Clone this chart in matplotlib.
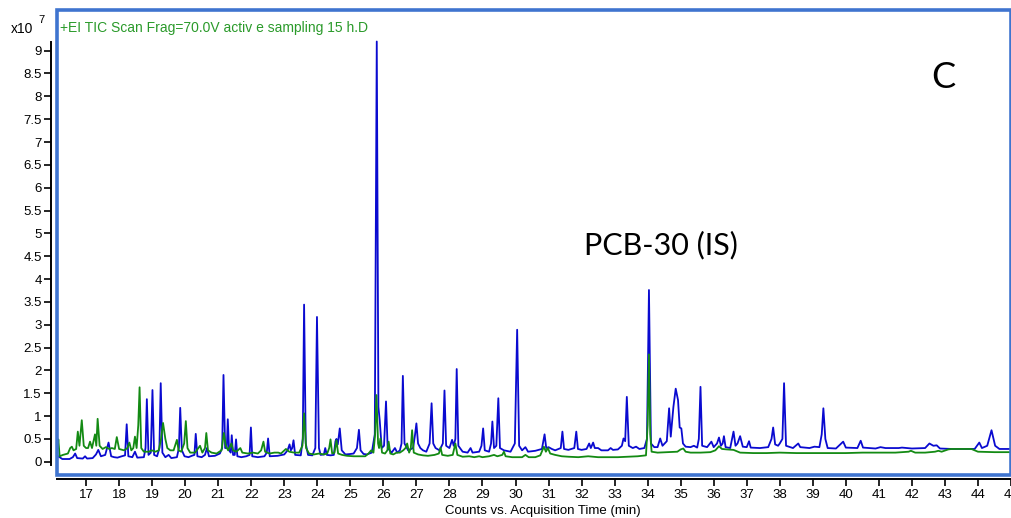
#!/usr/bin/env python3
"""TIC chromatogram, panel C (blue and green overlaid traces)."""

import matplotlib
matplotlib.use("Agg")
import matplotlib.pyplot as plt
from matplotlib.patches import Rectangle
from matplotlib.ticker import FormatStrFormatter

# Blue trace: (time min, counts x1e7) vertices
blue_pts = [
    (16.15, 0.12), (16.20, 0.10), (16.28, 0.06), (16.50, 0.06), (16.60, 0.10),
    (16.67, 0.18), (16.73, 0.08), (16.90, 0.07), (16.97, 0.12), (17.03, 0.07),
    (17.20, 0.08), (17.30, 0.16), (17.37, 0.26), (17.45, 0.12), (17.58, 0.15),
    (17.68, 0.42), (17.76, 0.12), (17.85, 0.10), (17.95, 0.09), (18.08, 0.12),
    (18.18, 0.14), (18.23, 0.82), (18.28, 0.12), (18.40, 0.10), (18.48, 0.22),
    (18.55, 0.09), (18.75, 0.10), (18.80, 0.30), (18.84, 1.37), (18.89, 0.15),
    (18.96, 0.20), (19.01, 1.57), (19.06, 0.15), (19.15, 0.12), (19.22, 0.30),
    (19.26, 1.72), (19.31, 0.20), (19.40, 0.10), (19.50, 0.15), (19.58, 0.08),
    (19.75, 0.10), (19.81, 0.30), (19.85, 1.18), (19.90, 0.25), (19.98, 0.12),
    (20.10, 0.10), (20.20, 0.13), (20.28, 0.15), (20.32, 0.61), (20.37, 0.12),
    (20.50, 0.10), (20.60, 0.15), (20.66, 0.30), (20.72, 0.12), (20.90, 0.13),
    (21.05, 0.18), (21.12, 0.30), (21.16, 1.90), (21.21, 0.30), (21.26, 0.30),
    (21.29, 0.93), (21.33, 0.25), (21.38, 0.20), (21.41, 0.58), (21.45, 0.15),
    (21.50, 0.15), (21.54, 0.49), (21.58, 0.12), (21.70, 0.10), (21.85, 0.12),
    (21.95, 0.15), (21.99, 0.75), (22.03, 0.12), (22.20, 0.10), (22.40, 0.12),
    (22.47, 0.20), (22.51, 0.51), (22.56, 0.12), (22.80, 0.13), (23.00, 0.16),
    (23.10, 0.25), (23.16, 0.38), (23.20, 0.25), (23.24, 0.30), (23.28, 0.47),
    (23.33, 0.15), (23.50, 0.14), (23.56, 0.50), (23.60, 3.44), (23.65, 0.40),
    (23.72, 0.15), (23.85, 0.14), (23.94, 0.30), (23.99, 3.17), (24.05, 0.30),
    (24.10, 0.15), (24.20, 0.16), (24.24, 0.30), (24.29, 0.15), (24.40, 0.14),
    (24.50, 0.15), (24.55, 0.45), (24.58, 0.50), (24.62, 0.38), (24.68, 0.73),
    (24.74, 0.25), (24.85, 0.16), (25.00, 0.17), (25.10, 0.18), (25.20, 0.30),
    (25.26, 0.70), (25.31, 0.25), (25.40, 0.17), (25.50, 0.16), (25.65, 0.20),
    (25.74, 0.60), (25.80, 9.20), (25.85, 1.20), (25.89, 0.90), (25.95, 0.30),
    (26.02, 0.35), (26.08, 1.32), (26.13, 0.30), (26.25, 0.20), (26.35, 0.30),
    (26.42, 0.20), (26.50, 0.25), (26.55, 0.40), (26.59, 1.88), (26.64, 0.40),
    (26.75, 0.25), (26.90, 0.30), (26.96, 0.60), (27.00, 0.84), (27.05, 0.40),
    (27.12, 0.30), (27.20, 0.25), (27.30, 0.22), (27.40, 0.40), (27.46, 1.28),
    (27.51, 0.40), (27.58, 0.30), (27.70, 0.25), (27.80, 0.40), (27.85, 1.56),
    (27.90, 0.35), (28.00, 0.30), (28.08, 0.48), (28.13, 0.35), (28.18, 0.50),
    (28.22, 2.03), (28.27, 0.35), (28.40, 0.22), (28.55, 0.20), (28.64, 0.30),
    (28.70, 0.20), (28.90, 0.22), (28.97, 0.35), (29.02, 0.73), (29.07, 0.25),
    (29.20, 0.22), (29.26, 0.40), (29.30, 0.88), (29.35, 0.30), (29.42, 0.35),
    (29.48, 1.39), (29.53, 0.30), (29.65, 0.25), (29.85, 0.22), (29.98, 0.40),
    (30.05, 2.89), (30.11, 0.35), (30.20, 0.25), (30.30, 0.32), (30.38, 0.22),
    (30.60, 0.24), (30.80, 0.28), (30.88, 0.60), (30.93, 0.30), (31.00, 0.32),
    (31.10, 0.28), (31.20, 0.25), (31.37, 0.30), (31.42, 0.66), (31.47, 0.28),
    (31.60, 0.26), (31.78, 0.30), (31.84, 0.66), (31.89, 0.28), (32.00, 0.26),
    (32.15, 0.28), (32.23, 0.40), (32.28, 0.30), (32.35, 0.42), (32.40, 0.30),
    (32.50, 0.30), (32.60, 0.25), (32.80, 0.25), (32.88, 0.30), (32.95, 0.26),
    (33.10, 0.27), (33.22, 0.35), (33.27, 0.51), (33.32, 0.45), (33.37, 1.42),
    (33.43, 0.35), (33.55, 0.30), (33.65, 0.33), (33.75, 0.28), (33.90, 0.30),
    (33.98, 0.50), (34.04, 3.76), (34.10, 0.40), (34.20, 0.32), (34.30, 0.32),
    (34.38, 0.51), (34.45, 0.35), (34.58, 0.45), (34.65, 1.17), (34.70, 0.55),
    (34.78, 1.20), (34.85, 1.60), (34.92, 1.35), (34.97, 0.75), (35.02, 0.73),
    (35.07, 0.40), (35.15, 0.33), (35.30, 0.32), (35.40, 0.35), (35.50, 0.31),
    (35.55, 0.50), (35.60, 1.64), (35.65, 0.35), (35.80, 0.32), (35.93, 0.44),
    (36.00, 0.32), (36.10, 0.40), (36.16, 0.53), (36.22, 0.35), (36.27, 0.40),
    (36.31, 0.56), (36.36, 0.32), (36.50, 0.30), (36.60, 0.66), (36.66, 0.35),
    (36.72, 0.40), (36.80, 0.56), (36.88, 0.33), (37.00, 0.32), (37.07, 0.45),
    (37.12, 0.31), (37.40, 0.30), (37.65, 0.32), (37.75, 0.50), (37.80, 0.75),
    (37.86, 0.38), (37.95, 0.35), (38.00, 0.40), (38.08, 0.50), (38.13, 1.72),
    (38.19, 0.35), (38.40, 0.30), (38.56, 0.40), (38.62, 0.32), (38.90, 0.30),
    (39.05, 0.33), (39.20, 0.32), (39.27, 0.60), (39.32, 1.17), (39.38, 0.50),
    (39.45, 0.30), (39.70, 0.29), (39.92, 0.44), (40.00, 0.31), (40.35, 0.30),
    (40.45, 0.46), (40.52, 0.31), (40.90, 0.29), (41.05, 0.32), (41.20, 0.30),
    (41.60, 0.30), (41.70, 0.31), (42.00, 0.29), (42.40, 0.30), (42.53, 0.40),
    (42.65, 0.35), (42.75, 0.36), (42.85, 0.29), (43.20, 0.28), (43.90, 0.28),
    (44.04, 0.42), (44.12, 0.30), (44.28, 0.35), (44.41, 0.69), (44.52, 0.35),
    (44.65, 0.28), (45.10, 0.28),
]

# Green trace: (time min, counts x1e7) vertices
green_pts = [
    (16.14, 0.30), (16.16, 0.49), (16.20, 0.12), (16.30, 0.15), (16.45, 0.18),
    (16.52, 0.30), (16.57, 0.33), (16.62, 0.25), (16.70, 0.28), (16.75, 0.66),
    (16.80, 0.35), (16.87, 0.91), (16.93, 0.35), (17.00, 0.30), (17.06, 0.30),
    (17.12, 0.44), (17.18, 0.30), (17.27, 0.60), (17.31, 0.35), (17.35, 0.94),
    (17.41, 0.35), (17.50, 0.28), (17.60, 0.32), (17.70, 0.28), (17.78, 0.30),
    (17.87, 0.28), (17.93, 0.54), (18.00, 0.28), (18.15, 0.25), (18.25, 0.30),
    (18.31, 0.42), (18.37, 0.25), (18.43, 0.30), (18.48, 0.55), (18.53, 0.30),
    (18.58, 0.80), (18.62, 1.63), (18.67, 0.30), (18.75, 0.22), (18.90, 0.22),
    (18.99, 0.25), (19.10, 0.22), (19.20, 0.25), (19.27, 0.50), (19.33, 0.85),
    (19.40, 0.50), (19.46, 0.30), (19.55, 0.25), (19.65, 0.25), (19.75, 0.48),
    (19.80, 0.25), (19.88, 0.22), (19.97, 0.40), (20.02, 0.89), (20.07, 0.30),
    (20.15, 0.20), (20.30, 0.20), (20.45, 0.35), (20.52, 0.20), (20.60, 0.30),
    (20.64, 0.63), (20.69, 0.25), (20.80, 0.20), (20.95, 0.18), (21.10, 0.25),
    (21.17, 0.63), (21.23, 0.35), (21.30, 0.25), (21.40, 0.40), (21.45, 0.25),
    (21.55, 0.22), (21.67, 0.30), (21.73, 0.20), (21.90, 0.18), (22.05, 0.20),
    (22.20, 0.18), (22.30, 0.25), (22.37, 0.44), (22.42, 0.22), (22.55, 0.18),
    (22.70, 0.20), (22.82, 0.20), (22.90, 0.18), (23.05, 0.28), (23.15, 0.22),
    (23.30, 0.20), (23.45, 0.20), (23.55, 0.35), (23.60, 1.06), (23.66, 0.30),
    (23.75, 0.18), (23.90, 0.16), (24.05, 0.18), (24.20, 0.16), (24.30, 0.18),
    (24.36, 0.30), (24.40, 0.49), (24.45, 0.18), (24.52, 0.20), (24.58, 0.47),
    (24.63, 0.18), (24.75, 0.15), (24.90, 0.13), (25.10, 0.12), (25.30, 0.12),
    (25.45, 0.12), (25.55, 0.18), (25.63, 0.25), (25.70, 0.20), (25.75, 0.60),
    (25.79, 1.46), (25.84, 0.40), (25.87, 0.30), (25.91, 0.51), (25.96, 0.20),
    (26.05, 0.18), (26.12, 0.25), (26.16, 0.44), (26.21, 0.18), (26.30, 0.16),
    (26.40, 0.20), (26.50, 0.20), (26.60, 0.25), (26.67, 0.30), (26.72, 0.40),
    (26.78, 0.20), (26.83, 0.30), (26.87, 0.69), (26.92, 0.20), (27.05, 0.16),
    (27.20, 0.14), (27.35, 0.13), (27.55, 0.15), (27.68, 0.18), (27.73, 0.31),
    (27.78, 0.15), (27.95, 0.13), (28.10, 0.15), (28.18, 0.40), (28.24, 0.15),
    (28.40, 0.11), (28.60, 0.12), (28.75, 0.10), (28.90, 0.12), (29.00, 0.10),
    (29.20, 0.12), (29.35, 0.15), (29.45, 0.12), (29.60, 0.15), (29.65, 0.22),
    (29.70, 0.12), (29.90, 0.10), (30.20, 0.10), (30.30, 0.15), (30.40, 0.10),
    (30.60, 0.10), (30.75, 0.14), (30.86, 0.33), (30.92, 0.22), (30.98, 0.30),
    (31.05, 0.18), (31.20, 0.15), (31.40, 0.12), (31.60, 0.11), (31.90, 0.10),
    (32.20, 0.12), (32.50, 0.10), (32.80, 0.10), (33.10, 0.10), (33.40, 0.11),
    (33.70, 0.12), (33.95, 0.14), (34.00, 0.80), (34.04, 2.35), (34.08, 0.60),
    (34.12, 0.22), (34.30, 0.20), (34.60, 0.21), (34.90, 0.22), (35.00, 0.27),
    (35.08, 0.29), (35.15, 0.22), (35.30, 0.20), (35.60, 0.20), (35.90, 0.21),
    (36.05, 0.25), (36.16, 0.34), (36.25, 0.28), (36.40, 0.27), (36.60, 0.26),
    (36.80, 0.20), (37.20, 0.19), (37.60, 0.19), (38.00, 0.20), (38.50, 0.19),
    (39.00, 0.19), (39.50, 0.19), (40.00, 0.19), (40.50, 0.20), (41.00, 0.20),
    (41.50, 0.20), (41.90, 0.22), (41.97, 0.24), (42.10, 0.20), (42.40, 0.20),
    (42.70, 0.22), (42.80, 0.24), (42.90, 0.22), (43.10, 0.27), (43.20, 0.28),
    (43.80, 0.28), (44.00, 0.22), (44.50, 0.21), (45.10, 0.21),
]

x_ticks = list(range(17, 46))
y_ticks = [i * 0.5 for i in range(19)]

trace_label = "+EI TIC Scan Frag=70.0V activ e sampling 15 h.D"
x_label = "Counts vs. Acquisition Time (min)"
panel_label = "C"
peak_label = "PCB-30 (IS)"

BLUE = "#0a0ad0"
GREEN = "#138a13"
FRAME = "#3f74cf"

W, H = 1012, 518
plt.rcParams["font.family"] = ["Liberation Sans", "DejaVu Sans"]
fig = plt.figure(figsize=(W / 100, H / 100), dpi=100)

# axes box in pixels: x 57..1011, y 10..475
ax = fig.add_axes([57 / W, 1 - 475 / H, (1011 - 57) / W, (475 - 10) / H])

bt = [p[0] for p in blue_pts]
bv = [p[1] for p in blue_pts]
gt = [p[0] for p in green_pts]
gv = [p[1] for p in green_pts]
ax.plot(bt, bv, color=BLUE, lw=1.3, zorder=3)
ax.plot(gt, gv, color=GREEN, lw=1.3, zorder=4)

ax.set_xlim(16.12, 45.0)
ax.set_ylim(-0.29, 9.89)

ax.spines["top"].set_visible(False)
ax.spines["right"].set_visible(False)
ax.spines["left"].set_position(("outward", 4))
ax.spines["bottom"].set_position(("outward", 3))
ax.spines["left"].set_bounds(-0.08, 9.2)
ax.spines["left"].set_linewidth(1.4)
ax.spines["bottom"].set_linewidth(1.4)

ax.set_xticks(x_ticks)
ax.set_yticks(y_ticks)
ax.yaxis.set_major_formatter(FormatStrFormatter("%g"))
ax.tick_params(axis="x", direction="out", length=5, width=1.2, labelsize=9.5, pad=2)
ax.tick_params(axis="y", direction="out", length=5, width=1.2, labelsize=9.5, pad=2)

# blue selection frame around the plot area
ax.add_patch(Rectangle((0, 0), 1, 1, transform=ax.transAxes, fill=False,
                       edgecolor=FRAME, lw=2.6, clip_on=False, zorder=5))

fig.text(11 / W, 1 - 29 / H, "x10", fontsize=10, va="center", ha="left")
fig.text(38 / W, 1 - 20 / H, "7", fontsize=8, va="center", ha="left")
fig.text(60 / W, 1 - 28 / H, trace_label, color="#2a9a2a", fontsize=10,
         va="center", ha="left")
fig.text(543 / W, 1 - 511 / H, x_label, fontsize=9.5, ha="center", va="center")

fig.text(943 / W, 1 - 77 / H, panel_label, fontsize=26, family="Lato",
         ha="center", va="center")
fig.text(661 / W, 1 - 245 / H, peak_label, fontsize=22, family="Lato",
         ha="center", va="center")

fig.savefig("out.png", dpi=100)
